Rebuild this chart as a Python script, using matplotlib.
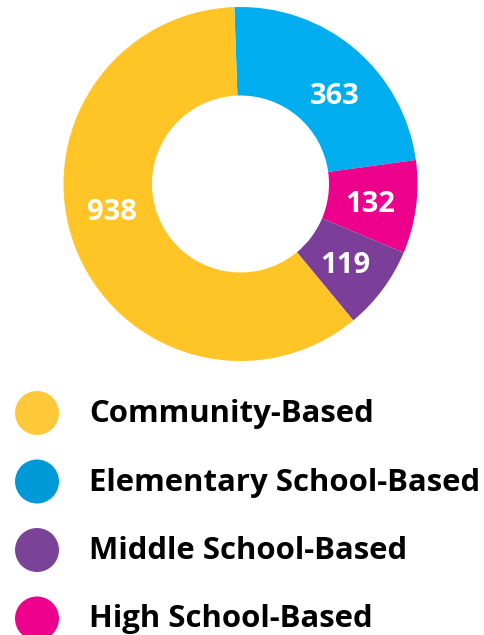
import numpy as np
import matplotlib
matplotlib.use("Agg")
import matplotlib.pyplot as plt

W, H = 484, 635

# data, in the clockwise order of the ring (starting at the top)
ring_labels = ["Elementary School-Based", "High School-Based",
               "Middle School-Based", "Community-Based"]
ring_values = [363, 132, 119, 938]
ring_colors = ["#00AEEF", "#EC008C", "#7B3F99", "#FFC527"]

# legend order and swatch colours
legend_labels = ["Community-Based", "Elementary School-Based",
                 "Middle School-Based", "High School-Based"]
legend_colors = ["#FFC83A", "#0099D8", "#7B4397", "#EC008C"]

# small angle nudges (degrees) applied to label placement
label_nudge = {"Community-Based": -10, "Elementary School-Based": -6}

plt.rcParams["font.family"] = ["Open Sans", "DejaVu Sans"]

fig = plt.figure(figsize=(W / 100, H / 100), dpi=100)

# donut: centre (240.5, 184) px, radius 177 px
cx, cy, R = 240.5, 184, 177
ax = fig.add_axes([(cx - R) / W, (H - cy - R) / H, 2 * R / W, 2 * R / H])
wedges, _ = ax.pie(ring_values, colors=ring_colors, startangle=92,
                   counterclock=False, radius=1.0,
                   wedgeprops=dict(width=0.5, linewidth=0))
ax.set_xlim(-1, 1); ax.set_ylim(-1, 1)
for w, lab, v in zip(wedges, ring_labels, ring_values):
    ang = np.deg2rad((w.theta1 + w.theta2) / 2 + label_nudge.get(lab, 0))
    ax.text(0.74 * np.cos(ang), 0.74 * np.sin(ang) - 0.02, str(v), color="white",
            fontsize=21, fontweight="bold", ha="center", va="center")

# legend drawn in pixel space
lg = fig.add_axes([0, 0, 1, 1]); lg.set_xlim(0, W); lg.set_ylim(H, 0); lg.axis("off")
for i, (lab, col) in enumerate(zip(legend_labels, legend_colors)):
    y = 413 + i * 68.5
    lg.scatter([37], [y], s=(44 * 0.72) ** 2, color=col, edgecolors="none")
    lg.text(89, y + 1, lab, fontsize=22.4, fontweight="bold", color="black",
            ha="left", va="center")

fig.savefig("out.png", dpi=100)
